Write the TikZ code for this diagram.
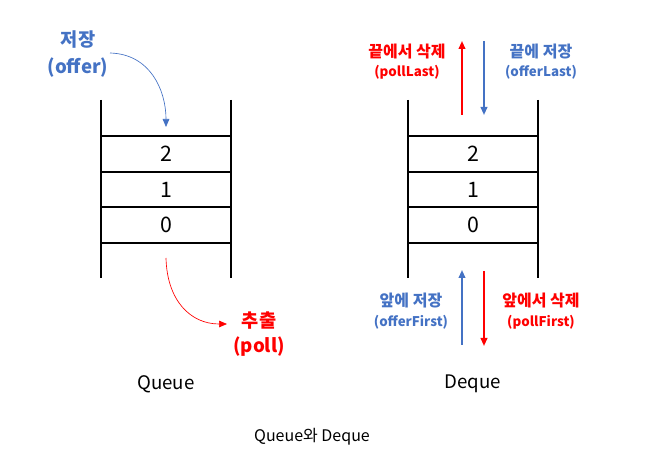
\documentclass[tikz,border=0pt]{standalone}
\usepackage{fontspec}
\setmainfont{Noto Sans CJK KR}
\usetikzlibrary{arrows.meta,positioning}
\definecolor{dqBlue}{RGB}{68,114,196}
\definecolor{dqRed}{RGB}{255,0,0}
\definecolor{dqInk}{RGB}{0,0,0}
\newcommand{\stackframe}[1]{%
  \draw[stackline] (0,100) -- (0,278);
  \draw[stackline] (130,100) -- (130,278);
  \foreach \yy in {136,172,207,243}
    \draw[stackline] (0,\yy) -- (130,\yy);
  \node[cell] (#1two) at (65,154) {2};
  \node[cell] (#1one) at (65,190) {1};
  \node[cell] (#1zero) at (65,225) {0};
}

\begin{document}
\begin{tikzpicture}[x=0.75pt,y=-0.75pt,
  stackline/.style={draw=dqInk,line width=0.8pt},
  cell/.style={font=\fontsize{16}{18}\selectfont,inner sep=0pt},
  bigB/.style={font=\fontsize{14}{16}\selectfont\bfseries,text=dqBlue,inner sep=0pt},
  bigR/.style={font=\fontsize{14}{16}\selectfont\bfseries,text=dqRed,inner sep=0pt},
  korB/.style={font=\fontsize{12}{14}\selectfont\bfseries,text=dqBlue,inner sep=0pt},
  korR/.style={font=\fontsize{12}{14}\selectfont\bfseries,text=dqRed,inner sep=0pt},
  smallB/.style={font=\fontsize{10}{12}\selectfont\bfseries,text=dqBlue,inner sep=0pt},
  smallR/.style={font=\fontsize{10}{12}\selectfont\bfseries,text=dqRed,inner sep=0pt},
  curveB/.style={draw=dqBlue,line width=0.5pt,-{Triangle[length=6pt,width=5pt]}},
  curveR/.style={draw=dqRed,line width=0.5pt,-{Triangle[length=6pt,width=5pt]}},
  barB/.style={draw=dqBlue,line width=1.3pt,-{Triangle[length=6pt,width=5pt]}},
  barR/.style={draw=dqRed,line width=1.3pt,-{Triangle[length=6pt,width=5pt]}},
  caption/.style={font=\fontsize{14}{16}\selectfont,inner sep=0pt}]
  \useasboundingbox (0,0) rectangle (653,466);
  % queue
  \begin{scope}[shift={(101,0)}]\stackframe{q}\end{scope}
  \node[bigB] (qofferK) at (78,40) {저장};
  \node[bigB] (qoffer) at (78,68) {(offer)};
  \node[bigR] (qpollK) at (259,321) {추출};
  \node[bigR] (qpoll) at (259,347) {(poll)};
  \coordinate (qinA) at (110,53);
  \coordinate (qinB) at (166,127);
  \coordinate (qoutA) at (166,258);
  \coordinate (qoutB) at (227,324);
  \draw[curveB] (qinA) .. controls (150,54) and (166,90) .. (qinB);
  \draw[curveR] (qoutA) .. controls (167,300) and (190,324) .. (qoutB);
  \node[caption] (qname) at (166,384) {Queue};
  % deque
  \begin{scope}[shift={(408,0)}]\stackframe{d}\end{scope}
  \coordinate (tRa) at (462,115);
  \coordinate (tRb) at (462,41);
  \coordinate (tBa) at (484,41);
  \coordinate (tBb) at (484,115);
  \coordinate (bBa) at (462,345);
  \coordinate (bBb) at (462,270);
  \coordinate (bRa) at (484,271);
  \coordinate (bRb) at (484,346);
  \draw[barR] (tRa) -- (tRb);
  \draw[barB] (tBa) -- (tBb);
  \draw[barB] (bBa) -- (bBb);
  \draw[barR] (bRa) -- (bRb);
  \node[korR] (lastpollK) at (407,52) {끝에서 삭제};
  \node[smallR] (lastpoll) at (407,72) {(pollLast)};
  \node[korB] (lastofferK) at (541,52) {끝에 저장};
  \node[smallB] (lastoffer) at (541,72) {(offerLast)};
  \node[korB] (firstofferK) at (411,301) {앞에 저장};
  \node[smallB] (firstoffer) at (411,322) {(offerFirst)};
  \node[korR] (firstpollK) at (541,301) {앞에서 삭제};
  \node[smallR] (firstpoll) at (541,322) {(pollFirst)};
  \node[caption] (dname) at (473,384) {Deque};
  \node[font=\fontsize{12}{14}\selectfont,inner sep=0pt] (title) at (312,437) {Queue와 Deque};
\end{tikzpicture}
\end{document}
